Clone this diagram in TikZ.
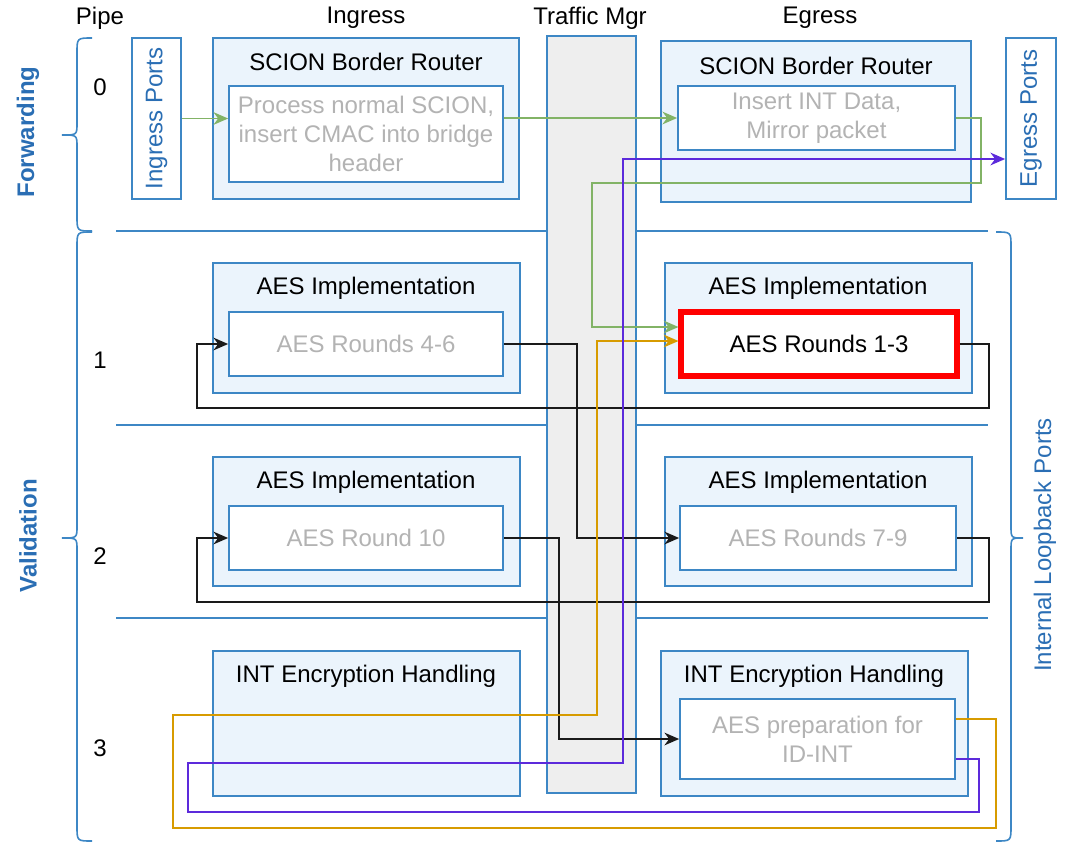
\documentclass[tikz,border=0pt]{standalone}
\usepackage{fontspec}
\setmainfont{Liberation Sans}
\usetikzlibrary{arrows.meta,calc}
\definecolor{bblue}{HTML}{3D87C5}
\definecolor{tblue}{HTML}{2A6EB4}
\definecolor{fillb}{HTML}{EBF4FC}
\definecolor{tmfill}{HTML}{EEEEEE}
\definecolor{greyt}{HTML}{B3B3B3}
\definecolor{cgreen}{HTML}{82B366}
\definecolor{corange}{HTML}{D79B00}
\definecolor{cpurple}{HTML}{5C2ADB}
\definecolor{cblack}{HTML}{1A1A1A}
\definecolor{cred}{HTML}{FF0000}
\begin{document}
\begin{tikzpicture}[x=0.75pt,y=-0.75pt,
  every node/.style={font=\fontsize{18}{21.6}\selectfont},
  rect/.style n args={4}{at={({(#1+#3)/2},{(#2+#4)/2})}, anchor=center,
     minimum width={(#3-#1)*0.75pt}, minimum height={(#4-#2)*0.75pt}},
  outerbox/.style={draw=bblue, fill=fillb, line width=1.3pt, inner sep=0pt},
  innerbox/.style={draw=bblue, fill=white, line width=1.3pt, inner sep=0pt, text=greyt, align=center},
  portbox/.style={draw=bblue, fill=white, line width=1.3pt, inner sep=0pt},
  tmbox/.style={draw=bblue, fill=tmfill, line width=1.3pt, inner sep=0pt},
  redbox/.style={draw=cred, fill=white, line width=3.8pt, inner sep=0pt, text=black, align=center},
  sepline/.style={draw=bblue, line width=1.2pt},
  bracel/.style={draw=bblue, line width=1.2pt},
  conn/.style={line width=1.4pt, -{Stealth[length=11pt,width=9.5pt,inset=3.5pt]}},
  gconn/.style={conn, draw=cgreen},
  oconn/.style={conn, draw=corange},
  pconn/.style={conn, draw=cpurple},
  kconn/.style={conn, draw=cblack},
  rlabel/.style={rotate=90, text=tblue},
  blabel/.style={rotate=90, text=tblue, font=\fontsize{18}{21.6}\selectfont\bfseries},
]
\useasboundingbox (0,0) rectangle (1067,843);

% headers
\node (hpipe) at (100,18) {Pipe};
\node (hing) at (366,18) {Ingress};
\node (htm) at (590,18) {Traffic Mgr};
\node (hegr) at (820,18) {Egress};

% pipe numbers
\node (n0) at (100,87) {0};
\node (n1) at (100,360) {1};
\node (n2) at (100,556) {2};
\node (n3) at (100,748) {3};

% side labels
\node[blabel] (lfwd) at (28,132) {Forwarding};
\node[blabel] (lval) at (28,536) {Validation};
\node[rlabel] (lloop) at (1045,545) {Internal Loopback Ports};

% braces
\draw[bracel] (92,38) .. controls (77,38) .. (77,53) -- (77,123) .. controls (77,135) .. (62,135)
  .. controls (77,135) .. (77,147) -- (77,216) .. controls (77,231) .. (92,231);
\draw[bracel] (92,232) .. controls (77,232) .. (77,247) -- (77,526) .. controls (77,538) .. (62,538)
  .. controls (77,538) .. (77,550) -- (77,826) .. controls (77,841) .. (92,841);
\draw[bracel] (996,232) .. controls (1011,232) .. (1011,247) -- (1011,526) .. controls (1011,538) .. (1023,538)
  .. controls (1011,538) .. (1011,550) -- (1011,826) .. controls (1011,841) .. (996,841);

% separators
\draw[sepline] (116,231) -- (988,231);
\draw[sepline] (116,425) -- (988,425);
\draw[sepline] (116,618) -- (988,618);

% traffic manager
\node[tmbox, rect={547}{36}{636}{793}] (tm) {};

% row 0
\node[portbox, rect={132}{38}{181}{199}] (ip) {};
\node[rlabel] (ipt) at (ip.center) {Ingress Ports};
\node[outerbox, rect={213}{38}{519}{199}] (inO) {};
\node (inOt) at (366,62) {SCION Border Router};
\node[innerbox, rect={229}{86}{503}{182}] (inI) {Process normal SCION,\\insert CMAC into bridge\\header};
\node[outerbox, rect={661}{41}{971}{202}] (egO) {};
\node (egOt) at (816,66) {SCION Border Router};
\node[innerbox, rect={678}{86}{955}{150}] (egI) {Insert INT Data,\\Mirror packet};
\node[portbox, rect={1006}{38}{1056}{199}] (ep) {};
\node[rlabel] (ept) at (ep.center) {Egress Ports};

% row 1
\node[outerbox, rect={213}{263}{520}{393}] (a1L) {};
\node (a1Lt) at (366,288) {AES Implementation};
\node[innerbox, rect={229}{312}{503}{376}] (r46) {AES Rounds 4-6};
\node[outerbox, rect={665}{263}{972}{393}] (a1R) {};
\node (a1Rt) at (818,288) {AES Implementation};
\node[redbox, rect={681}{312}{957}{376}] (r13) {AES Rounds 1-3};

% row 2
\node[outerbox, rect={213}{457}{520}{586}] (a2L) {};
\node (a2Lt) at (366,482) {AES Implementation};
\node[innerbox, rect={229}{506}{503}{570}] (r10) {AES Round 10};
\node[outerbox, rect={665}{457}{972}{586}] (a2R) {};
\node (a2Rt) at (818,482) {AES Implementation};
\node[innerbox, rect={680}{506}{956}{570}] (r79) {AES Rounds 7-9};

% row 3
\node[outerbox, rect={213}{651}{520}{796}] (i3L) {};
\node (i3Lt) at (366,676) {INT Encryption Handling};
\node[outerbox, rect={661}{651}{968}{796}] (i3R) {};
\node (i3Rt) at (814,676) {INT Encryption Handling};
\node[innerbox, rect={680}{699}{955}{779}] (prep) {AES preparation for\\ID-INT};

% connectors
\draw[gconn] (ip.east) -- (ip.east -| inI.west);
\draw[gconn] (egI.west -| inI.east) -- (egI.west);
\draw[gconn] (egI.east) -- (981,118) -- (981,183) -- (592,183) -- (592,327) -- (r13.west |- 0,327);
\draw[kconn] (r13.east) -- (989,344) -- (989,408) -- (197,408) -- (197,344) -- (r46.west);
\draw[kconn] (r46.east) -- (577,344) -- (577,538) -- (r79.west);
\draw[kconn] (r79.east) -- (989,538) -- (989,602) -- (197,602) -- (197,538) -- (r10.west);
\draw[kconn] (r10.east) -- (559,538) -- (559,739) -- (prep.west);
\draw[oconn] (prep.east |- 0,719) -- (996,719) -- (996,828) -- (173,828) -- (173,715) -- (597,715) -- (597,341) -- (r13.west |- 0,341);
\draw[pconn] (prep.east |- 0,759) -- (979,759) -- (979,812) -- (188,812) -- (188,763) -- (623,763) -- (623,159) -- (ep.west |- 0,159);
\end{tikzpicture}
\end{document}
